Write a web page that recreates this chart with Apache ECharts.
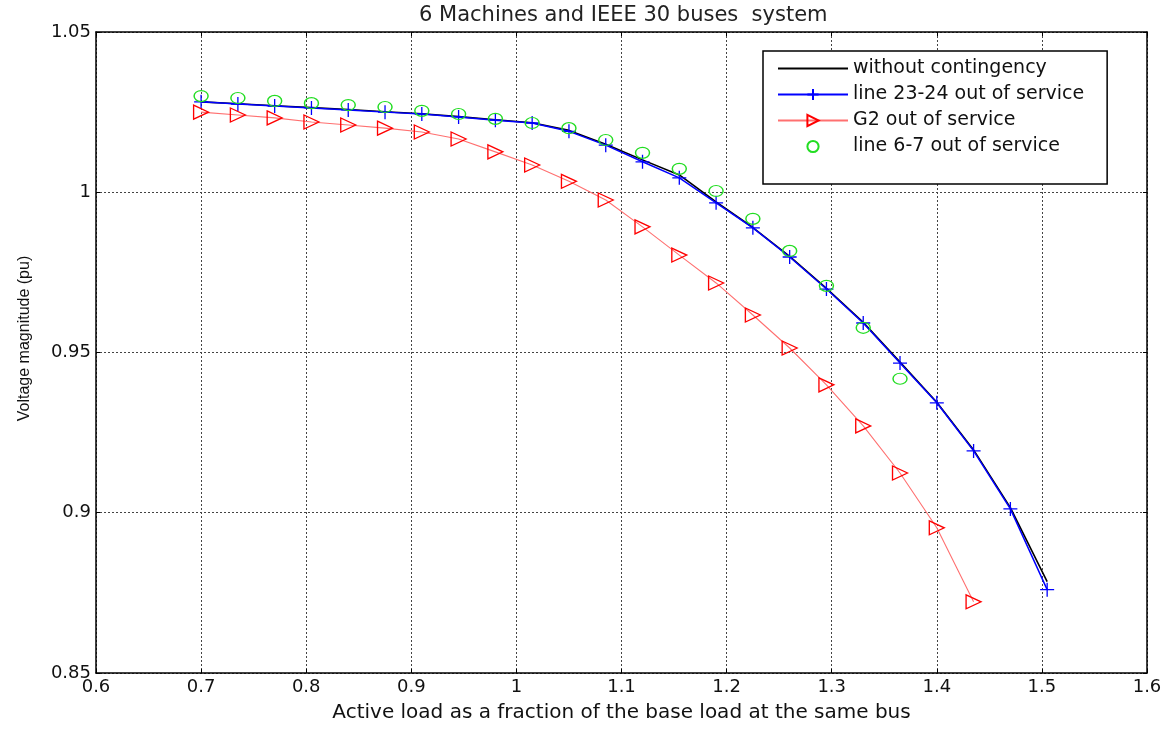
<!DOCTYPE html>
<html>
<head>
<meta charset="utf-8">
<title>6 Machines and IEEE 30 buses system</title>
<script src="https://cdn.jsdelivr.net/npm/echarts@6/dist/echarts.min.js"></script>
<style>
  html, body { margin: 0; padding: 0; background: #fff; }
  #chart { width: 1170px; height: 729px; }
</style>
</head>
<body>
<div id="chart"></div>
<script>
// Active load as a fraction of the base load (x positions of the samples)
const loadFraction = [0.700, 0.735, 0.770, 0.805, 0.840, 0.875, 0.910, 0.945, 0.980, 1.015,
                      1.050, 1.085, 1.120, 1.155, 1.190, 1.225, 1.260, 1.295, 1.330, 1.365,
                      1.400, 1.435, 1.470, 1.505];

// Voltage magnitude (pu) for each operating case
const vNoContingency = [1.0282, 1.0276, 1.0270, 1.0264, 1.0258, 1.0251, 1.0245, 1.0236, 1.0226, 1.0217,
                        1.0193, 1.0150, 1.0101, 1.0054, 0.9970, 0.9890, 0.9800, 0.9700, 0.9594, 0.9470,
                        0.9345, 0.9196, 0.9016, 0.8785];
const vLine2324 =      [1.0282, 1.0275, 1.0269, 1.0263, 1.0257, 1.0250, 1.0244, 1.0235, 1.0225, 1.0216,
                        1.0190, 1.0147, 1.0095, 1.0045, 0.9967, 0.9889, 0.9798, 0.9698, 0.9592, 0.9467,
                        0.9343, 0.9193, 0.9012, 0.8760];
const vG2 =            [1.0250, 1.0241, 1.0232, 1.0219, 1.0210, 1.0200, 1.0188, 1.0166, 1.0126, 1.0085,
                        1.0034, 0.9976, 0.9892, 0.9804, 0.9717, 0.9617, 0.9514, 0.9399, 0.9271, 0.9124,
                        0.8953, 0.8722];
const vLine67 =        [1.0300, 1.0294, 1.0285, 1.0278, 1.0272, 1.0266, 1.0254, 1.0244, 1.0229, 1.0216,
                        1.0200, 1.0163, 1.0123, 1.0073, 1.0004, 0.9917, 0.9817, 0.9708, 0.9577, 0.9418];

const xTicks = { min: 0.6, max: 1.6, step: 0.1 };
const yTicks = { min: 0.85, max: 1.05, step: 0.05 };

const seriesNames = ['without contingency', 'line 23-24 out of service', 'G2 out of service', 'line 6-7 out of service'];

function pairs(values) {
  return values.map((v, i) => [loadFraction[i], v]);
}

const wideFont = 'DejaVu Sans, Liberation Sans, sans-serif';
const narrowFont = 'Liberation Sans, Arial, sans-serif';
const chart = echarts.init(document.getElementById('chart'), null, { renderer: 'canvas' });

const plusPath = 'path://M5,0L5,10M0,5L10,5';
const rightTriangle = 'path://M0,0L10,5L0,10Z';

const dotted = { color: '#444', type: [2, 2], width: 1 };
const frame = { color: '#000', width: 1.5 };

// Mirrored axes along the top and right edges carry only the inward ticks
function mirrorAxis(base, position) {
  return Object.assign({}, base, {
    position: position,
    name: '',
    axisLabel: { show: false },
    splitLine: { show: false }
  });
}

const xMain = {
  type: 'value',
  min: xTicks.min, max: xTicks.max, interval: xTicks.step,
  name: 'Active load as a fraction of the base load at the same bus',
  nameLocation: 'middle', nameGap: 30,
  nameTextStyle: { fontFamily: wideFont, fontSize: 20, color: '#111' },
  axisLine: { show: true, onZero: false, lineStyle: frame },
  axisTick: { show: true, inside: true, length: 4, lineStyle: { color: '#000' } },
  axisLabel: { fontFamily: wideFont, fontSize: 18, color: '#111', margin: 5 },
  splitLine: { show: true, lineStyle: dotted }
};
const yMain = {
  type: 'value',
  min: yTicks.min, max: yTicks.max, interval: yTicks.step,
  name: 'Voltage magnitude (pu)',
  nameLocation: 'middle', nameGap: 63,
  nameTextStyle: { fontFamily: narrowFont, fontSize: 16, color: '#111', padding: [0, 0, 0, 28] },
  axisLine: { show: true, onZero: false, lineStyle: frame },
  axisTick: { show: true, inside: true, length: 4, lineStyle: { color: '#000' } },
  axisLabel: { fontFamily: wideFont, fontSize: 18, color: '#111', margin: 5 },
  splitLine: { show: true, lineStyle: dotted }
};

chart.setOption({
  animation: false,
  backgroundColor: '#ffffff',
  title: {
    text: '6 Machines and IEEE 30 buses  system',
    left: 414,
    top: 0,
    textStyle: { fontFamily: wideFont, fontSize: 21, fontWeight: 'normal', color: '#222' }
  },
  grid: {
    left: 96, right: 23, top: 32, bottom: 56,
    show: false
  },
  legend: {
    orient: 'vertical',
    left: 763, top: 51,
    data: seriesNames,
    itemWidth: 70, itemHeight: 14, itemGap: 7,
    padding: [8, 23, 28, 14],
    borderColor: '#000', borderWidth: 1.5,
    backgroundColor: '#fff',
    textStyle: { fontFamily: wideFont, fontSize: 19, lineHeight: 18, color: '#111' },
    selectedMode: false
  },
  xAxis: [xMain, mirrorAxis(xMain, 'top')],
  yAxis: [yMain, mirrorAxis(yMain, 'right')],
  series: [
    {
      name: seriesNames[0],
      type: 'line',
      data: pairs(vNoContingency),
      symbol: 'none',
      lineStyle: { color: '#000', width: 1.6 },
      itemStyle: { color: 'transparent', borderColor: 'transparent' },
      z: 2
    },
    {
      name: seriesNames[1],
      type: 'line',
      data: pairs(vLine2324),
      symbol: plusPath,
      symbolSize: 14,
      lineStyle: { color: '#0000ff', width: 1.5 },
      itemStyle: { color: 'none', borderColor: '#0000ff', borderWidth: 1.3 },
      z: 3
    },
    {
      name: seriesNames[2],
      type: 'line',
      data: pairs(vG2),
      symbol: rightTriangle,
      symbolSize: [15, 14],
      lineStyle: { color: '#ff7070', width: 1.1 },
      itemStyle: { color: 'none', borderColor: '#ff0000', borderWidth: 1.3 },
      z: 3
    },
    {
      name: seriesNames[3],
      type: 'line',
      data: pairs(vLine67),
      symbol: 'circle',
      symbolSize: [14, 11],
      lineStyle: { opacity: 0, width: 0 },
      itemStyle: { color: 'none', borderColor: '#22dd22', borderWidth: 1.3 },
      z: 4
    }
  ]
});
</script>
</body>
</html>
